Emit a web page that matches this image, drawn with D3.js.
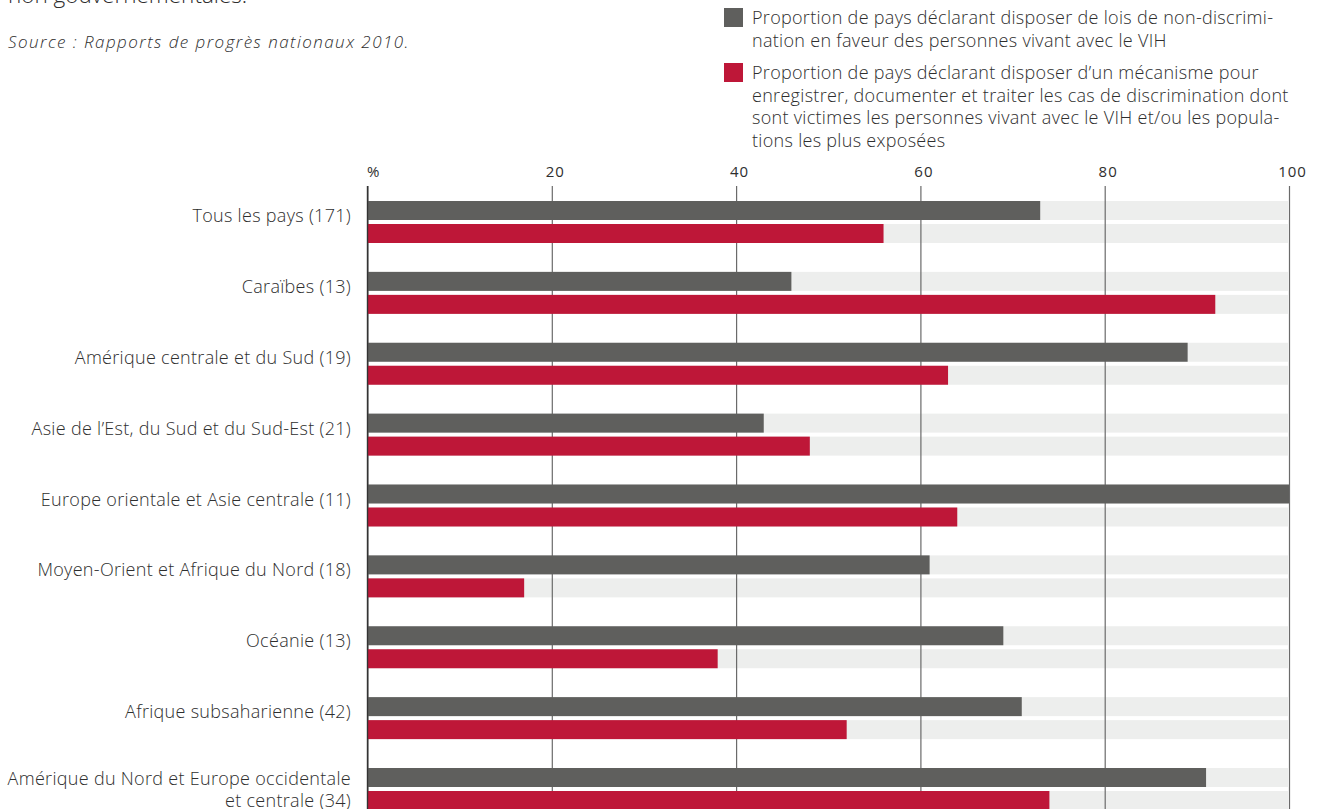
<!DOCTYPE html>
<html>
<head>
<meta charset="utf-8">
<script src="https://cdn.jsdelivr.net/npm/d3@7"></script>
<style>
  html, body { margin: 0; padding: 0; background: #fff; }
  svg { display: block; }
  text { font-family: "Open Sans", "Noto Sans", sans-serif; fill: #2e2e2e; }
</style>
</head>
<body>
<svg id="chart" width="1323" height="809"></svg>
<script>
// ---- Data ----
const categories = [
  "Tous les pays (171)",
  "Caraïbes (13)",
  "Amérique centrale et du Sud (19)",
  "Asie de l’Est, du Sud et du Sud-Est (21)",
  "Europe orientale et Asie centrale (11)",
  "Moyen-Orient et Afrique du Nord (18)",
  "Océanie (13)",
  "Afrique subsaharienne (42)",
  "Amérique du Nord et Europe occidentale\net centrale (34)"
];
const seriesNames = ["lois", "mecanisme"];
const loisValues = [73, 46, 89, 43, 100, 61, 69, 71, 91];
const mecanismeValues = [56, 92, 63, 48, 64, 17, 38, 52, 74];
const tickValues = [0, 20, 40, 60, 80, 100];
const tickLabels = ["%", "20", "40", "60", "80", "100"];
const legendLabels = [
  ["Proportion de pays déclarant disposer de lois de non-discrimi-",
   "nation en faveur des personnes vivant avec le VIH"],
  ["Proportion de pays déclarant disposer d’un mécanisme pour",
   "enregistrer, documenter et traiter les cas de discrimination dont",
   "sont victimes les personnes vivant avec le VIH et/ou les popula-",
   "tions les plus exposées"]
];
const headerText = "non gouvernementales.";
const sourceText = "Source : Rapports de progrès nationaux 2010.";

const colors = { lois: "#5f5f5d", mecanisme: "#be1738", track: "#edeeed" };

// ---- Layout ----
const W = 1323, H = 809;
const svg = d3.select("#chart");

const x = d3.scaleLinear().domain([0, 100]).range([367.5, 1289]);
const step = (768 - 201) / (categories.length - 1);
const y = d3.scaleBand().domain(categories).range([201, 201 + step * categories.length]).paddingInner(0).paddingOuter(0);
const ySub = d3.scaleBand().domain(seriesNames).range([0, 42]).paddingInner(4 / 23).paddingOuter(0);

const rows = categories.map((c, i) => ({ cat: c, lois: loisValues[i], mecanisme: mecanismeValues[i] }));

// header texts
svg.append("text").attr("x", 8).attr("y", 3).style("font-size", "22.5px").style("font-weight", "300").text(headerText);
svg.append("text").attr("x", 8).attr("y", 48).style("font-size", "17px").style("font-style", "italic")
  .style("font-weight", "300").style("letter-spacing", "1.45px").text(sourceText);

// legend
const legend = svg.append("g");
const legendTops = [8, 63];
legendLabels.forEach((lines, i) => {
  const g = legend.append("g").attr("transform", `translate(724,${legendTops[i]})`);
  g.append("rect").attr("width", 19).attr("height", 19).attr("fill", colors[seriesNames[i]]);
  const t = g.append("text").attr("x", 28).attr("y", 16).style("font-size", "18px")
    .style("font-weight", "300").style("letter-spacing", "0.3px");
  lines.forEach((l, j) => t.append("tspan").attr("x", 28).attr("dy", j === 0 ? 0 : 22.5).text(l));
});

// background tracks
const groups = svg.append("g").selectAll("g").data(rows).join("g")
  .attr("transform", d => `translate(0,${y(d.cat)})`);
groups.selectAll("rect.track").data(seriesNames).join("rect").attr("class", "track")
  .attr("x", x(0)).attr("y", s => ySub(s))
  .attr("width", x(100) - x(0) - 1).attr("height", ySub.bandwidth())
  .attr("fill", colors.track);

// grid/axis
const axis = d3.axisTop(x).tickValues(tickValues)
  .tickFormat((d, i) => tickLabels[i]).tickSize(-(H - 186)).tickPadding(9);
const axG = svg.append("g").attr("transform", "translate(0,186)").call(axis);
axG.select(".domain").remove();
axG.selectAll(".tick line").attr("stroke", "#6a6a6a").attr("stroke-width", 1.2);
axG.selectAll(".tick text")
  .style("font-size", "15px").style("font-weight", "500").style("letter-spacing", "1px")
  .style("font-family", "\"Open Sans\", sans-serif")
  .attr("fill", "#2e2e2e")
  .attr("text-anchor", (d) => d === 0 ? "start" : "middle")
  .attr("dx", d => d === 0 ? -1 : 3);

// data bars
const barRows = svg.append("g").selectAll("g").data(rows).join("g")
  .attr("transform", d => `translate(0,${y(d.cat)})`);
barRows.selectAll("rect.bar").data(d => seriesNames.map(s => ({ s, v: d[s] }))).join("rect")
  .attr("class", "bar")
  .attr("x", x(0)).attr("y", d => ySub(d.s))
  .attr("width", d => x(d.v) - x(0)).attr("height", ySub.bandwidth())
  .attr("fill", d => colors[d.s]);

// zero line
svg.append("line").attr("x1", x(0)).attr("x2", x(0)).attr("y1", 186).attr("y2", H)
  .attr("stroke", "#333").attr("stroke-width", 1.4);

// category labels
const labels = svg.append("g").selectAll("text").data(rows).join("text")
  .attr("text-anchor", "end").style("font-size", "18px").style("font-weight", "300")
  .style("letter-spacing", "0.3px")
  .attr("transform", d => `translate(351,${y(d.cat)})`);
labels.each(function(d) {
  const lines = d.cat.split("\n");
  const t = d3.select(this);
  const base = lines.length === 1 ? 21 : 16.5;
  lines.forEach((l, j) => t.append("tspan").attr("x", 0).attr("y", base + j * 22).text(l));
});
</script>
</body>
</html>
